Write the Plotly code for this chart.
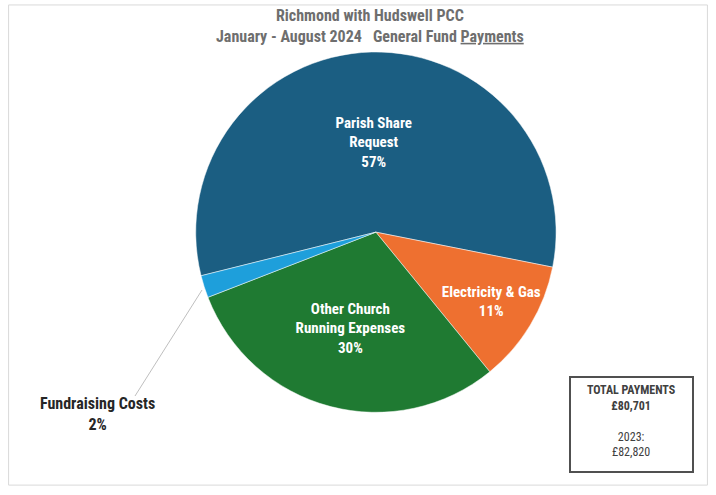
import plotly.graph_objects as go

categories = ["Parish Share<br>Request", "Electricity & Gas", "Other Church<br>Running Expenses", "Fundraising Costs"]
values = [57, 11, 30, 2]
colors = ["#1B5E82", "#EE7030", "#1F7A32", "#1E9FDB"]
label_positions = ["inside", "inside", "inside", "none"]

title_line1 = "Richmond with Hudswell PCC"
title_line2 = "January - August 2024   General Fund <span style='text-decoration:underline'>Payments</span>"
total_label = "TOTAL PAYMENTS"
total_value = "£80,701"
prev_label = "2023:"
prev_value = "£82,820"

FONT = "Liberation Sans Narrow, Roboto Condensed, Arial Narrow, Roboto, sans-serif"

fig = go.Figure()
fig.add_trace(go.Pie(
    labels=categories,
    values=values,
    sort=False,
    direction="clockwise",
    rotation=256,
    marker=dict(colors=colors, line=dict(color="white", width=0.5)),
    texttemplate="<b>%{label}<br>%{value}%</b>",
    textposition=label_positions,
    insidetextorientation="horizontal",
    insidetextfont=dict(color="white", size=15, family=FONT),
    domain=dict(x=[0.2, 0.85], y=[0.167, 0.895]),
    showlegend=False,
    hole=0,
))

fig.update_layout(
    width=716, height=495,
    margin=dict(l=0, r=0, t=0, b=0),
    paper_bgcolor="white",
    plot_bgcolor="white",
    font=dict(family=FONT),
    uniformtext=dict(minsize=15, mode="show"),
    shapes=[
        dict(type="rect", xref="paper", yref="paper", x0=0.012, x1=0.988, y0=0.02, y1=0.99,
             line=dict(color="#D9D9D9", width=1)),
        dict(type="rect", xref="paper", yref="paper", x0=570/716, x1=693/716,
             y0=1 - 472/495, y1=1 - 377/495, line=dict(color="#505050", width=2),
             fillcolor="white"),
        dict(type="line", xref="paper", yref="paper", x0=135/716, x1=202/716,
             y0=1 - 396/495, y1=1 - 290/495, line=dict(color="#BFBFBF", width=1)),
    ],
    annotations=[
        dict(text="<b>" + title_line1 + "<br>" + title_line2 + "</b>", x=0.517, y=1 - 4/495,
             xref="paper", yref="paper", xanchor="center", yanchor="top", showarrow=False,
             font=dict(size=16, color="#6E6E6E", family=FONT), align="center"),
        dict(text="<b>" + categories[3] + "<br>2%</b>", x=97/716, y=1 - 414/495,
             xref="paper", yref="paper", xanchor="center", yanchor="middle", showarrow=False,
             font=dict(size=16, color="#262626", family=FONT), align="center"),
        dict(text="<b>" + total_label + "<br>" + total_value + "</b><br> <br>" + prev_label + "<br>" + prev_value,
             x=631/716, y=1 - 421/495, xref="paper", yref="paper", xanchor="center", yanchor="middle",
             showarrow=False, font=dict(size=12, color="#404040", family=FONT), align="center"),
    ],
)

fig.write_html("out.html")
